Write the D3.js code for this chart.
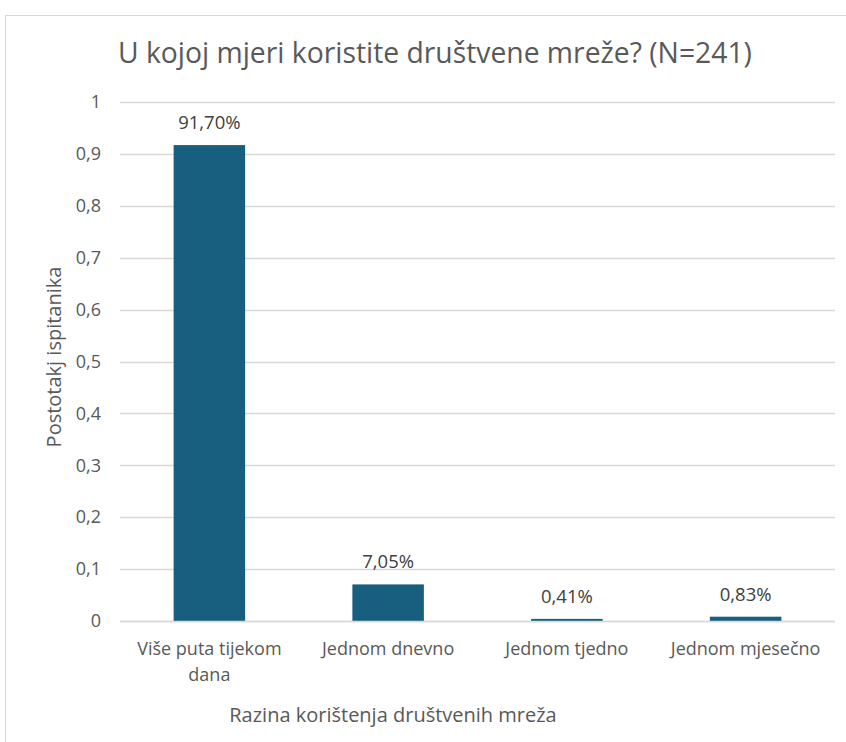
<!DOCTYPE html>
<html><head><meta charset="utf-8">
<script src="https://cdn.jsdelivr.net/npm/d3@7"></script>
<style>
html,body{margin:0;padding:0;background:#fff;}
svg{display:block;font-family:"Open Sans",sans-serif;}
</style></head>
<body>
<svg id="chart" width="846" height="742"></svg>
<script>
const categories = ["Više puta tijekom dana", "Jednom dnevno", "Jednom tjedno", "Jednom mjesečno"];
const categoryLines = [["Više puta tijekom", "dana"], ["Jednom dnevno"], ["Jednom tjedno"], ["Jednom mjesečno"]];
const values = [0.917, 0.0705, 0.0041, 0.0083];
const valueLabels = ["91,70%", "7,05%", "0,41%", "0,83%"];
const yTicks = [0, 0.1, 0.2, 0.3, 0.4, 0.5, 0.6, 0.7, 0.8, 0.9, 1];
const yTickLabels = ["0", "0,1", "0,2", "0,3", "0,4", "0,5", "0,6", "0,7", "0,8", "0,9", "1"];
const title = "U kojoj mjeri koristite društvene mreže? (N=241)";
const xTitle = "Razina korištenja društvenih mreža";
const yTitle = "Postotakj ispitanika";

const svg = d3.select("#chart");
const textColor = "#595959";
const barColor = "#175e7f";

// chart frame
svg.append("rect").attr("x", 5.5).attr("y", 15.5).attr("width", 860).attr("height", 760)
  .attr("fill", "none").attr("stroke", "#d9d9d9").attr("stroke-width", 1);

const pLeft = 120, pRight = 835, pTop = 102, pBottom = 621;
const x = d3.scaleBand().domain(categories).range([pLeft, pRight]).paddingInner(0.6).paddingOuter(0.3);
const y = d3.scaleLinear().domain([0, 1]).range([pBottom, pTop]);

// gridlines
svg.append("g").selectAll("line").data(yTicks).join("line")
  .attr("x1", pLeft).attr("x2", pRight)
  .attr("y1", d => Math.round(y(d)) + 0.5).attr("y2", d => Math.round(y(d)) + 0.5)
  .attr("stroke", "#d9d9d9").attr("stroke-width", 1.3);

// y axis labels
const yAxis = d3.axisLeft(y).tickValues(yTicks).tickFormat((d, i) => yTickLabels[i]).tickSize(0).tickPadding(0);
const yg = svg.append("g").attr("transform", `translate(${101},0)`).call(yAxis);
yg.select(".domain").remove();
yg.selectAll("text").attr("fill", textColor).style("font-size", "18px").style("font-family", "Open Sans");

// bars
svg.append("g").selectAll("rect").data(values).join("rect")
  .attr("x", (d, i) => x(categories[i]))
  .attr("width", x.bandwidth())
  .attr("y", d => y(d))
  .attr("height", d => y(0) - y(d))
  .attr("fill", barColor);

// baseline
svg.append("line").attr("x1", pLeft).attr("x2", pRight).attr("y1", pBottom + 0.5).attr("y2", pBottom + 0.5)
  .attr("stroke", "#d9d9d9").attr("stroke-width", 1.5);

// value labels
svg.append("g").selectAll("text").data(values).join("text")
  .attr("x", (d, i) => x(categories[i]) + x.bandwidth() / 2)
  .attr("y", d => y(d) - 16)
  .attr("text-anchor", "middle")
  .attr("fill", "#404040").style("font-size", "18.5px")
  .text((d, i) => valueLabels[i]);

// x category labels
const xl = svg.append("g").selectAll("text").data(categories).join("text")
  .attr("x", (d) => x(d) + x.bandwidth() / 2)
  .attr("y", 655)
  .attr("text-anchor", "middle")
  .attr("fill", textColor).style("font-size", "18px");
xl.each(function(d, i) {
  const t = d3.select(this);
  categoryLines[i].forEach((line, j) => {
    t.append("tspan").attr("x", x(d) + x.bandwidth() / 2).attr("dy", j === 0 ? 0 : 26).text(line);
  });
});

// title
svg.append("text").attr("x", 118).attr("y", 63).attr("fill", textColor)
  .style("font-size", "28.3px").text(title);

// axis titles
svg.append("text").attr("x", 393).attr("y", 722).attr("text-anchor", "middle")
  .attr("fill", textColor).style("font-size", "20px").text(xTitle);
svg.append("text").attr("transform", `translate(61,${357}) rotate(-90)`)
  .attr("text-anchor", "middle").attr("fill", textColor).style("font-size", "20px").text(yTitle);
</script>
</body></html>
